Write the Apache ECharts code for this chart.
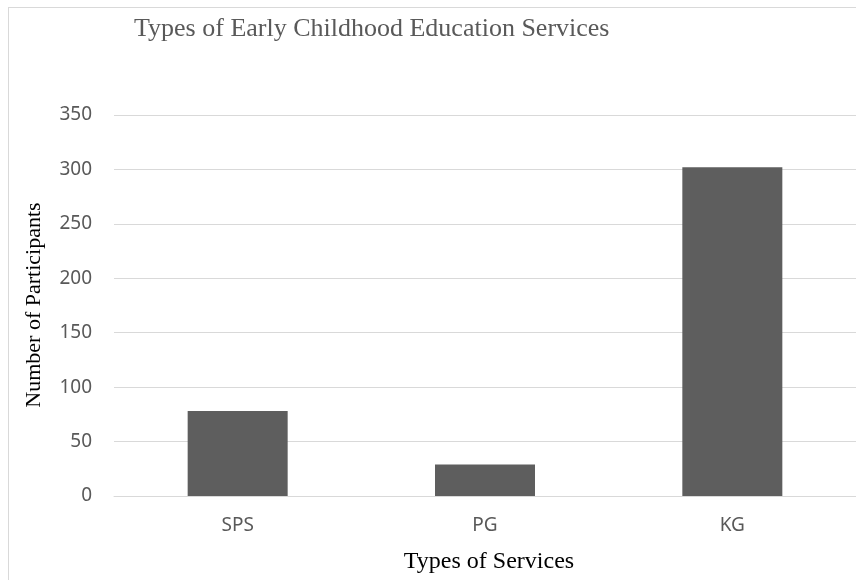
<!DOCTYPE html>
<html>
<head>
<meta charset="utf-8">
<script src="https://cdn.jsdelivr.net/npm/echarts@6/dist/echarts.min.js"></script>
<style>
html,body{margin:0;padding:0;background:#fff;}
#frame{position:absolute;left:8px;top:7px;width:900px;height:620px;border:1px solid #d9d9d9;}
#chart{position:absolute;left:0;top:0;width:856px;height:580px;}
</style>
</head>
<body>
<div id="frame"></div>
<div id="chart"></div>
<script>
var categories = ["SPS","PG","KG"];
var participants = [78,29,302];
var yTicks = [0,50,100,150,200,250,300,350];

var chart = echarts.init(document.getElementById('chart'));
var option = {
    animation: false,
    title: {
        text: 'Types of Early Childhood Education Services',
        left: 129,
        top: 11,
        textStyle: {
            fontFamily: 'Liberation Serif',
            fontWeight: 'normal',
            fontSize: 26,
            color: '#595959'
        }
    },
    grid: {
        left: 114,
        top: 115,
        width: 749,
        height: 381
    },
    xAxis: {
        type: 'category',
        data: categories,
        axisLine: {lineStyle: {color: '#d9d9d9', width: 1}},
        axisTick: {show: false},
        axisLabel: {fontFamily: 'Noto Sans', fontSize: 19, color: '#595959', margin: 20}
    },
    yAxis: {
        type: 'value',
        min: yTicks[0],
        max: yTicks[yTicks.length-1],
        interval: 50,
        axisLine: {show: false},
        axisTick: {show: false},
        axisLabel: {fontFamily: 'Noto Sans', fontSize: 19, color: '#595959', margin: 22},
        splitLine: {lineStyle: {color: '#d9d9d9', width: 1}}
    },
    graphic: [{
        type: 'text',
        x: 34,
        y: 305,
        rotation: Math.PI/2,
        style: {
            text: 'Number of Participants',
            font: '22px "Liberation Serif"',
            fill: '#000',
            align: 'center',
            verticalAlign: 'middle'
        }
    }, {
        type: 'text',
        x: 489,
        y: 562,
        style: {
            text: 'Types of Services',
            font: '24px "Liberation Serif"',
            fill: '#000',
            align: 'center',
            verticalAlign: 'middle'
        }
    }],
    series: [{
        type: 'bar',
        data: participants,
        barWidth: 100,
        itemStyle: {color: '#5e5e5e'}
    }]
};
chart.setOption(option);
</script>
</body>
</html>
